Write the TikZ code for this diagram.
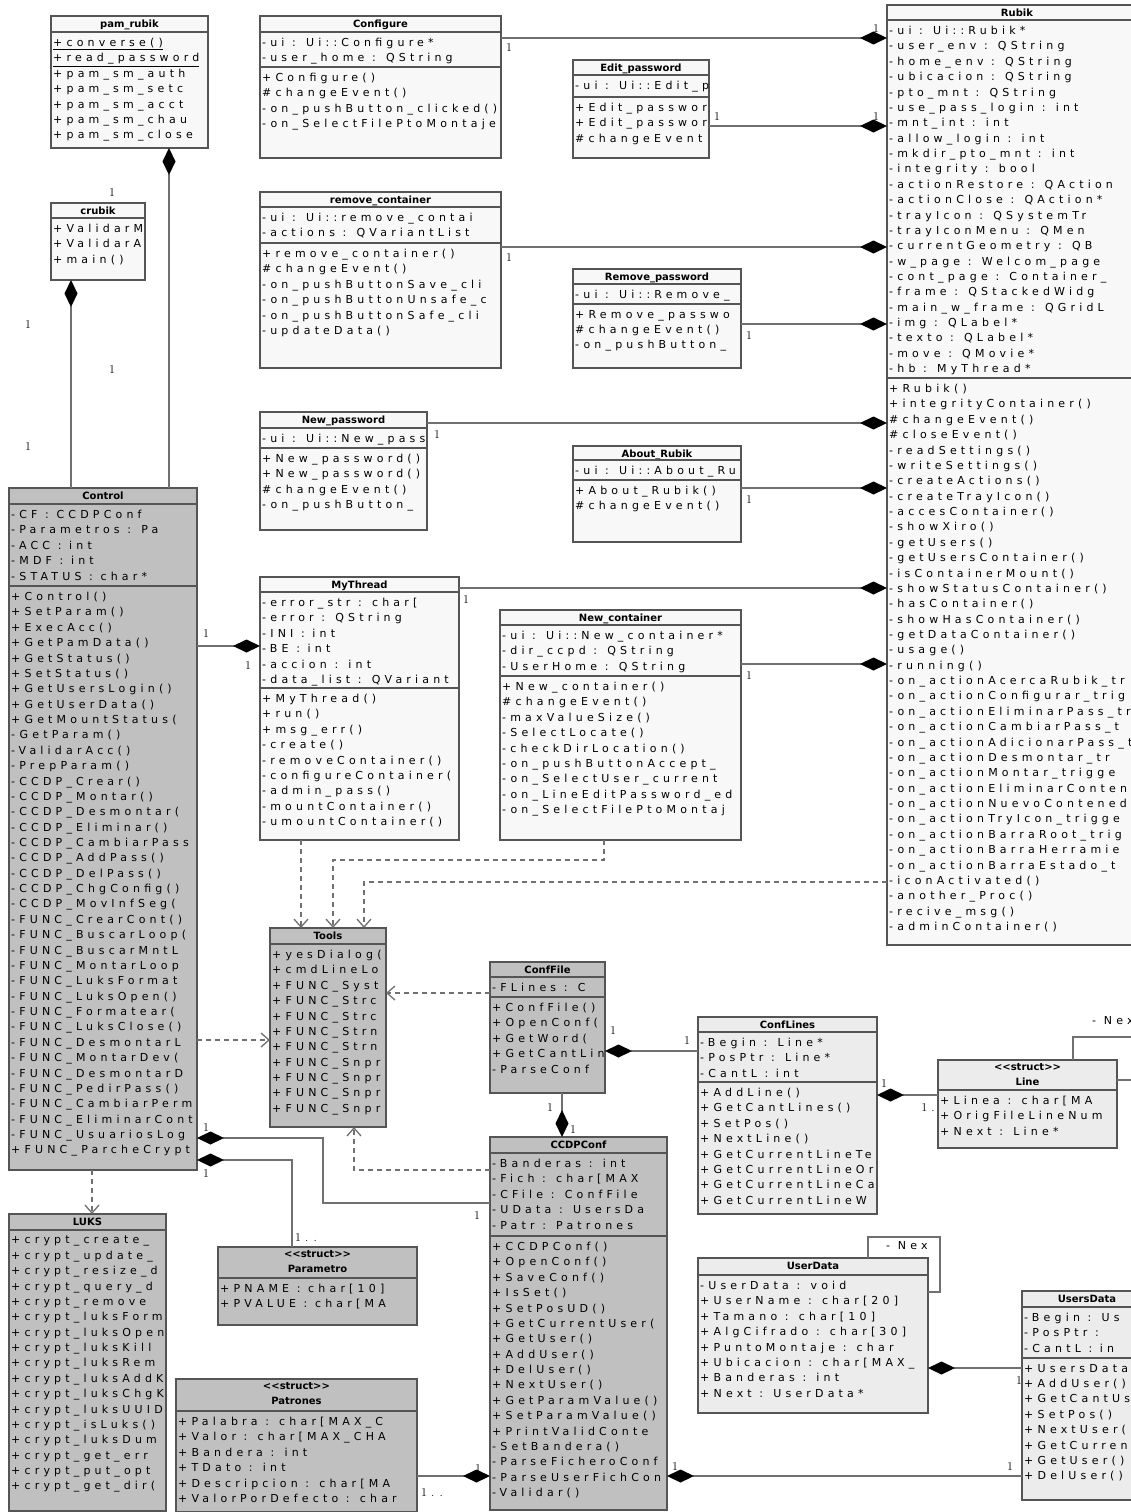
\documentclass[tikz,border=0pt]{standalone}
\usepackage{fontspec}
\usepackage{xcolor}
\usetikzlibrary{arrows.meta, calc}

\newfontfamily\umlfont[LetterSpace=38]{DejaVu Sans}
\newfontfamily\ttlfont{DejaVu Sans}

\definecolor{boxgray}{HTML}{C0C0C0}
\definecolor{boxlight}{HTML}{ECECEC}
\definecolor{boxwhite}{HTML}{F8F8F8}
\definecolor{boxedge}{HTML}{555555}
\definecolor{linkgray}{HTML}{707070}

% class box with its title
\newcommand{\umlclass}[7]{%
  \node[cls, fill=#2, minimum width=#5pt, minimum height=#6pt] (#1) at (#3,#4) {};
  \node[ttl] (#1-t) at ([yshift=-3.5pt]#1.north) {#7};
}
% one compartment: rule #3 below the top, rows kept inside the box
\newcommand{\umlpart}[4]{%
  \draw[seprule] ([yshift=-#3pt]#1.north west) -- ([yshift=-#3pt]#1.north east);
  \begin{scope}
    \clip ([xshift=1pt]#1.north west) rectangle ([xshift=-1pt]#1.south east);
    \node[rows] (#1-#2) at ([xshift=2pt, yshift=-#3pt-6pt]#1.north west) {#4};
  \end{scope}
}

\begin{document}
\begin{tikzpicture}[
    x=1pt, y=-1pt,
    cls/.style={draw=boxedge, line width=1.3pt, anchor=north west, inner sep=0pt, outer sep=0pt},
    ttl/.style={anchor=north, inner sep=0pt, align=center, font=\ttlfont\bfseries\fontsize{10}{14.5}\selectfont},
    rows/.style={anchor=north west, inner sep=0pt, align=left,
                 font=\umlfont\fontsize{11}{15.37}\selectfont,
                 execute at begin node={\rule{0pt}{8.4pt}}},
    seprule/.style={draw=boxedge, line width=1.3pt},
    comp/.style={draw=linkgray, line width=1.3pt,
                 -{Diamond[length=27pt, width=13pt, color=black, fill=black]}},
    dep/.style={draw=linkgray, line width=1.3pt, dash pattern=on 5pt off 4pt,
                -{Straight Barb[length=8pt, width=14pt]}},
    assoc/.style={draw=linkgray, line width=1.3pt},
    mult/.style={font=\fontsize{12}{12}\selectfont, inner sep=0pt},
    role/.style={anchor=west, inner sep=0pt, font=\umlfont\fontsize{11}{12}\selectfont},
]
\useasboundingbox[fill=white] (0,0) rectangle (1131,1512);

% --- top left ---
\umlclass{pamRubik}{boxwhite}{51}{16}{157}{132}{pam\_rubik}
\umlpart{pamRubik}{o}{16}{\underline{+converse()}\\ \underline{+read\_password}\\
  +pam\_sm\_auth\\ +pam\_sm\_setc\\ +pam\_sm\_acct\\ +pam\_sm\_chau\\ +pam\_sm\_close}

\umlclass{crubik}{boxwhite}{51}{203}{94}{77}{crubik}
\umlpart{crubik}{o}{15}{+ValidarM\\ +ValidarAcc\\ +main()}

% --- dialogs ---
\umlclass{Configure}{boxwhite}{260}{16}{241}{142}{Configure}
\umlpart{Configure}{a}{16}{-ui : Ui::Configure*\\ -user\_home : QString}
\umlpart{Configure}{o}{51}{+Configure()\\ \#changeEvent()\\ -on\_pushButton\_clicked()\\
  -on\_SelectFilePtoMontaje}

\umlclass{EditPassword}{boxwhite}{573}{60}{136}{98}{Edit\_password}
\umlpart{EditPassword}{a}{15}{-ui : Ui::Edit\_p}
\umlpart{EditPassword}{o}{37}{+Edit\_passwor\\ +Edit\_passwor\\ \#changeEvent}

\umlclass{removeContainer}{boxwhite}{260}{192}{241}{176}{remove\_container}
\umlpart{removeContainer}{a}{15}{-ui : Ui::remove\_contai\\ -actions : QVariantList}
\umlpart{removeContainer}{o}{51}{+remove\_container()\\ \#changeEvent()\\
  -on\_pushButtonSave\_cli\\ -on\_pushButtonUnsafe\_c\\
  -on\_pushButtonSafe\_cli\\ -updateData()}

\umlclass{RemovePassword}{boxwhite}{573}{269}{168}{99}{Remove\_password}
\umlpart{RemovePassword}{a}{15}{-ui : Ui::Remove\_}
\umlpart{RemovePassword}{o}{35}{+Remove\_passwo\\ \#changeEvent()\\ -on\_pushButton\_}

\umlclass{NewPassword}{boxwhite}{260}{412}{167}{118}{New\_password}
\umlpart{NewPassword}{a}{16}{-ui : Ui::New\_pass}
\umlpart{NewPassword}{o}{36}{+New\_password()\\ +New\_password()\\ \#changeEvent()\\
  -on\_pushButton\_}

\umlclass{AboutRubik}{boxwhite}{573}{446}{168}{96}{About\_Rubik}
\umlpart{AboutRubik}{a}{14}{-ui : Ui::About\_Ru}
\umlpart{AboutRubik}{o}{34}{+About\_Rubik()\\ \#changeEvent()}

\umlclass{MyThread}{boxwhite}{260}{577}{199}{263}{MyThread}
\umlpart{MyThread}{a}{15}{-error\_str : char[\\ -error : QString\\ -INI : int\\ -BE : int\\
  -accion : int\\ -data\_list : QVariant}
\umlpart{MyThread}{o}{111}{+MyThread()\\ +run()\\ +msg\_err()\\ -create()\\ -removeContainer()\\
  -configureContainer(\\ -admin\_pass()\\ -mountContainer()\\ -umountContainer()}

\umlclass{NewContainer}{boxwhite}{500}{610}{241}{230}{New\_container}
\umlpart{NewContainer}{a}{15}{-ui : Ui::New\_container*\\ -dir\_ccpd : QString\\ -UserHome : QString}
\umlpart{NewContainer}{o}{66}{+New\_container()\\ \#changeEvent()\\ -maxValueSize()\\ -SelectLocate()\\
  -checkDirLocation()\\ -on\_pushButtonAccept\_\\ -on\_SelectUser\_current\\
  -on\_LineEditPassword\_ed\\ -on\_SelectFilePtoMontaj}

% --- main window ---
\umlclass{Rubik}{boxwhite}{887}{5}{260}{940}{Rubik}
\umlpart{Rubik}{a}{15}{-ui : Ui::Rubik*\\ -user\_env : QString\\ -home\_env : QString\\
  -ubicacion : QString\\ -pto\_mnt : QString\\ -use\_pass\_login : int\\ -mnt\_int : int\\
  -allow\_login : int\\ -mkdir\_pto\_mnt : int\\ -integrity : bool\\ -actionRestore : QAction\\
  -actionClose : QAction*\\ -trayIcon : QSystemTr\\ -trayIconMenu : QMen\\
  -currentGeometry : QB\\ -w\_page : Welcom\_page\\ -cont\_page : Container\_\\
  -frame : QStackedWidg\\ -main\_w\_frame : QGridL\\ -img : QLabel*\\
  -texto : QLabel*\\ -move : QMovie*\\ -hb : MyThread*}
\umlpart{Rubik}{o}{373}{+Rubik()\\ +integrityContainer()\\ \#changeEvent()\\ \#closeEvent()\\
  -readSettings()\\ -writeSettings()\\ -createActions()\\ -createTrayIcon()\\ -accesContainer()\\
  -showXiro()\\ -getUsers()\\ -getUsersContainer()\\ -isContainerMount()\\ -showStatusContainer()\\
  -hasContainer()\\ -showHasContainer()\\ -getDataContainer()\\ -usage()\\ -running()\\
  -on\_actionAcercaRubik\_tr\\ -on\_actionConfigurar\_trig\\
  -on\_actionEliminarPass\_tr\\ -on\_actionCambiarPass\_t\\
  -on\_actionAdicionarPass\_t\\ -on\_actionDesmontar\_tr\\
  -on\_actionMontar\_trigge\\ -on\_actionEliminarConten\\
  -on\_actionNuevoContened\\ -on\_actionTryIcon\_trigge\\
  -on\_actionBarraRoot\_trig\\ -on\_actionBarraHerramie\\
  -on\_actionBarraEstado\_t\\ -iconActivated()\\ -another\_Proc()\\
  -recive\_msg()\\ -adminContainer()}

% --- back end ---
\umlclass{Control}{boxgray}{9}{488}{188}{682}{Control}
\umlpart{Control}{a}{16}{-CF : CCDPConf\\ -Parametros : Pa\\ -ACC : int\\ -MDF : int\\
  -STATUS : char*}
\umlpart{Control}{o}{98}{+Control()\\ +SetParam()\\ +ExecAcc()\\ +GetPamData()\\ +GetStatus()\\
  +SetStatus()\\ +GetUsersLogin()\\ +GetUserData()\\ +GetMountStatus(\\ -GetParam()\\
  -ValidarAcc()\\ -PrepParam()\\ -CCDP\_Crear()\\ -CCDP\_Montar()\\ -CCDP\_Desmontar(\\
  -CCDP\_Eliminar()\\ -CCDP\_CambiarPass\\ -CCDP\_AddPass()\\ -CCDP\_DelPass()\\
  -CCDP\_ChgConfig()\\ -CCDP\_MovInfSeg(\\ -FUNC\_CrearCont()\\ -FUNC\_BuscarLoop(\\
  -FUNC\_BuscarMntL\\ -FUNC\_MontarLoop\\ -FUNC\_LuksFormat\\ -FUNC\_LuksOpen()\\
  -FUNC\_Formatear(\\ -FUNC\_LuksClose()\\ -FUNC\_DesmontarL\\ -FUNC\_MontarDev(\\
  -FUNC\_DesmontarD\\ -FUNC\_PedirPass()\\ -FUNC\_CambiarPerm\\
  -FUNC\_EliminarCont\\ -FUNC\_UsuariosLog\\ +FUNC\_ParcheCrypt}

\umlclass{Tools}{boxgray}{270}{928}{116}{199}{Tools}
\umlpart{Tools}{o}{16}{+yesDialog()\\ +cmdLineLo\\ +FUNC\_Syst\\ +FUNC\_Strc\\
  +FUNC\_Strc\\ +FUNC\_Strn\\ +FUNC\_Strn\\ +FUNC\_Snpr\\ +FUNC\_Snpr\\
  +FUNC\_Snpr\\ +FUNC\_Snpr}

\umlclass{ConfFile}{boxgray}{490}{962}{115}{131}{ConfFile}
\umlpart{ConfFile}{a}{15}{-FLines : C}
\umlpart{ConfFile}{o}{35}{+ConfFile()\\ +OpenConf(\\ +GetWord(\\ +GetCantLin\\ -ParseConf}

\umlclass{ConfLines}{boxlight}{698}{1017}{179}{197}{ConfLines}
\umlpart{ConfLines}{a}{15}{-Begin : Line*\\ -PosPtr : Line*\\ -CantL : int}
\umlpart{ConfLines}{o}{65}{+AddLine()\\ +GetCantLines()\\ +SetPos()\\ +NextLine()\\
  +GetCurrentLineTe\\ +GetCurrentLineOr\\ +GetCurrentLineCa\\ +GetCurrentLineW}

\umlclass{Line}{boxlight}{938}{1060}{179}{88}{\textless\textless struct\textgreater\textgreater\\ Line}
\umlpart{Line}{a}{30}{+Linea : char[MA\\ +OrigFileLineNum\\ +Next : Line*}

\umlclass{CCDPConf}{boxgray}{490}{1137}{177}{373}{CCDPConf}
\umlpart{CCDPConf}{a}{16}{-Banderas : int\\ -Fich : char[MAX\\ -CFile : ConfFile\\
  -UData : UsersDa\\ -Patr : Patrones}
\umlpart{CCDPConf}{o}{99}{+CCDPConf()\\ +OpenConf()\\ +SaveConf()\\ +IsSet()\\ +SetPosUD()\\
  +GetCurrentUser(\\ +GetUser()\\ +AddUser()\\ +DelUser()\\ +NextUser()\\ +GetParamValue()\\
  +SetParamValue()\\ +PrintValidConte\\ -SetBandera()\\ -ParseFicheroConf\\
  -ParseUserFichCon\\ -Validar()}

\umlclass{UserData}{boxlight}{698}{1258}{230}{155}{UserData}
\umlpart{UserData}{a}{17}{-UserData : void\\ +UserName : char[20]\\ +Tamano : char[10]\\
  +AlgCifrado : char[30]\\ +PuntoMontaje : char\\ +Ubicacion : char[MAX\_\\
  +Banderas : int\\ +Next : UserData*}

\umlclass{UsersData}{boxlight}{1022}{1291}{130}{209}{UsersData}
\umlpart{UsersData}{a}{16}{-Begin : Us\\ -PosPtr :\\ -CantL : in}
\umlpart{UsersData}{o}{67}{+UsersData\\ +AddUser()\\ +GetCantUs\\ +SetPos()\\ +NextUser(\\
  +GetCurren\\ +GetUser()\\ +DelUser()}

\umlclass{LUKS}{boxgray}{9}{1214}{157}{297}{LUKS}
\umlpart{LUKS}{o}{16}{+crypt\_create\_\\ +crypt\_update\_\\ +crypt\_resize\_d\\
  +crypt\_query\_d\\ +crypt\_remove\\ +crypt\_luksForm\\ +crypt\_luksOpen\\
  +crypt\_luksKill\\ +crypt\_luksRem\\ +crypt\_luksAddK\\ +crypt\_luksChgK\\
  +crypt\_luksUUID\\ +crypt\_isLuks()\\ +crypt\_luksDum\\ +crypt\_get\_err\\
  +crypt\_put\_opt\\ +crypt\_get\_dir(}

\umlclass{Parametro}{boxgray}{218}{1247}{199}{78}{\textless\textless struct\textgreater\textgreater\\ Parametro}
\umlpart{Parametro}{a}{31}{+PNAME : char[10]\\ +PVALUE : char[MA}

\umlclass{Patrones}{boxgray}{176}{1379}{241}{133}{\textless\textless struct\textgreater\textgreater\\ Patrones}
\umlpart{Patrones}{a}{32}{+Palabra : char[MAX\_C\\ +Valor : char[MAX\_CHA\\ +Bandera : int\\
  +TDato : int\\ +Descripcion : char[MA\\ +ValorPorDefecto : char}

% --- compositions into Rubik ---
\draw[comp] ([yshift=-22pt]Configure.north east) coordinate (cConf) -- (cConf -| Rubik.west);
\draw[comp] ([yshift=-66pt]EditPassword.north east) coordinate (cEdit) -- (cEdit -| Rubik.west);
\draw[comp] ([yshift=-55pt]removeContainer.north east) coordinate (cRem) -- (cRem -| Rubik.west);
\draw[comp] ([yshift=-55pt]RemovePassword.north east) coordinate (cRemP) -- (cRemP -| Rubik.west);
\draw[comp] ([yshift=-11pt]NewPassword.north east) coordinate (cNewP) -- (cNewP -| Rubik.west);
\draw[comp] ([yshift=-42pt]AboutRubik.north east) coordinate (cAbout) -- (cAbout -| Rubik.west);
\draw[comp] ([yshift=-11pt]MyThread.north east) coordinate (cThr) -- (cThr -| Rubik.west);
\draw[comp] ([yshift=-54pt]NewContainer.north east) coordinate (cNewC) -- (cNewC -| Rubik.west);

% --- compositions of Control ---
\draw[comp] ([xshift=160pt]Control.north west) coordinate (cPam) -- (cPam |- pamRubik.south);
\draw[comp] ([xshift=62pt]Control.north west) coordinate (cCru) -- (cCru |- crubik.south);
\draw[comp] ([yshift=-158pt]Control.north east) coordinate (cCtl) -- (cCtl -| MyThread.west);
\draw[comp] ([yshift=-66pt]CCDPConf.north west) coordinate (cCC) -| ++(-167,-65) coordinate (cCC2)
      -- (cCC2 -| Control.east);
\draw[comp] ([xshift=74pt]Parametro.north west) |- ([yshift=-672pt]Control.north east);

% --- configuration data ---
\draw[comp] ([xshift=72pt]ConfFile.south west) coordinate (cCF) -- (cCF |- CCDPConf.north);
\draw[comp] ([yshift=-34pt]ConfLines.north west) coordinate (cCL) -- (cCL -| ConfFile.east);
\draw[comp] ([yshift=-35pt]Line.north west) coordinate (cLn) -- (cLn -| ConfLines.east);
\draw[comp] ([yshift=-97pt]Patrones.north east) coordinate (cPat) -- (cPat -| CCDPConf.west);
\draw[comp] ([yshift=-185pt]UsersData.north west) coordinate (cUs) -- (cUs -| CCDPConf.east);
\draw[comp] ([yshift=-77pt]UsersData.north west) coordinate (cUD) -- (cUD -| UserData.east);

% self links
\draw[assoc] ([xshift=135pt]Line.north west) -- ++(0,-23) -- ++(90,0) |- ([yshift=-20pt]Line.north east);
\draw[assoc] ([xshift=170pt]UserData.north west) -- ++(0,-21) -- ++(72,0) |- ([yshift=-34pt]UserData.north east);
\node[role] (rLine) at (1092,1021) {- Nex};
\node[role] (rUser) at (886,1246) {- Nex};

% --- dependencies ---
\draw[dep] ([yshift=-552pt]Control.north east) coordinate (dCtl) -- (dCtl -| Tools.west);
\draw[dep] ([xshift=83pt]Control.south west) coordinate (dLuks) -- (dLuks |- LUKS.north);
\draw[dep] ([xshift=41pt]MyThread.south west) coordinate (dThr) -- (dThr |- Tools.north);
\draw[dep] ([xshift=104pt]NewContainer.south west) -- ++(0,20) -| ([xshift=63pt]Tools.north west);
\draw[dep] ([yshift=-877pt]Rubik.north west) -| ([xshift=94pt]Tools.north west);
\draw[dep] ([yshift=-31pt]ConfFile.north west) coordinate (dCF) -- (dCF -| Tools.east);
\draw[dep] ([yshift=-33pt]CCDPConf.north west) -| ([xshift=84pt]Tools.south west);

% multiplicities
\node[mult] (m1)  at (509,48)   {1};
\node[mult] (m2)  at (876,29)   {1};
\node[mult] (m3)  at (717,117)  {1};
\node[mult] (m4)  at (876,117)  {1};
\node[mult] (m5)  at (509,258)  {1};
\node[mult] (m6)  at (749,336)  {1};
\node[mult] (m7)  at (437,435)  {1};
\node[mult] (m8)  at (749,500)  {1};
\node[mult] (m9)  at (466,600)  {1};
\node[mult] (m10) at (749,676)  {1};
\node[mult] (m11) at (112,193)  {1};
\node[mult] (m12) at (28,325)   {1};
\node[mult] (m13) at (112,370)  {1};
\node[mult] (m14) at (28,447)   {1};
\node[mult] (m15) at (206,634)  {1};
\node[mult] (m16) at (248,666)  {1};
\node[mult] (m17) at (206,1127) {1};
\node[mult] (m18) at (206,1173) {1};
\node[mult] (m19) at (477,1215) {1};
\node[mult] (m20) at (306,1237) {1 . .};
\node[mult] (m21) at (613,1030) {1};
\node[mult] (m22) at (687,1040) {1};
\node[mult] (m23) at (550,1107) {1};
\node[mult] (m24) at (573,1129) {1};
\node[mult] (m25) at (884,1083) {1};
\node[mult] (m26) at (928,1107) {1 .};
\node[mult] (m27) at (478,1468) {1};
\node[mult] (m28) at (432,1492) {1 . .};
\node[mult] (m29) at (675,1466) {1};
\node[mult] (m30) at (1010,1466) {1};
\node[mult] (m31) at (1019,1380) {1};
\end{tikzpicture}
\end{document}
